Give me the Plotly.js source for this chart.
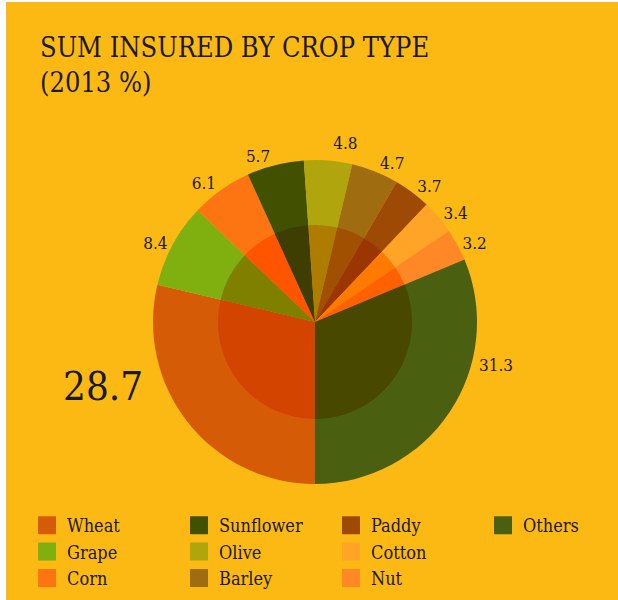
<!DOCTYPE html>
<html>
<head>
<meta charset="utf-8">
<script src="https://cdn.plot.ly/plotly-3.0.1.min.js"></script>
<style>
  html, body { margin: 0; padding: 0; background: #ffffff; }
  #chart { position: absolute; left: 6px; top: 2px; width: 612px; height: 598px; }
  #chart path.textline { display: none; }
</style>
</head>
<body>
<div id="chart"></div>
<script>
// slices, clockwise from 6 o'clock
const crops = ["Wheat", "Grape", "Corn", "Sunflower", "Olive", "Barley", "Paddy", "Cotton", "Nut", "Others"];
const shares = [28.7, 8.4, 6.1, 5.7, 4.8, 4.7, 3.7, 3.4, 3.2, 31.3];
const outerColors = ["#D55B06", "#80B010", "#FD7413", "#425002", "#B0A50D", "#A06C10", "#9E4A05", "#FFA426", "#FF8826", "#4A5F10"];
const innerColors = ["#D24400", "#7F7F00", "#FF5500", "#3E3D02", "#AE7D00", "#A05000", "#9B3600", "#FF7A00", "#FF6000", "#494800"];

// legend columns (read down each column)
const legendColumns = [
  ["Wheat", "Grape", "Corn"],
  ["Sunflower", "Olive", "Barley"],
  ["Paddy", "Cotton", "Nut"],
  ["Others"]
];

const font = "DejaVu Serif Condensed, DejaVu Serif, serif";
const W = 612, H = 598;
const cx = 309, cy = 320, rOuter = 162, rInner = 97;

function dom(r) {
  return {
    x: [(cx - r) / W, (cx + r) / W],
    y: [(H - cy - r) / H, (H - cy + r) / H]
  };
}

// the two big slices get their labels set off to the side
const bigOnes = ["Wheat", "Others"];
const sliceText = crops.map((c, i) => bigOnes.includes(c) ? "" : String(shares[i]));

const outer = {
  type: "pie",
  labels: crops,
  values: shares,
  text: sliceText,
  sort: false,
  direction: "clockwise",
  rotation: 180,
  domain: dom(rOuter),
  marker: { colors: outerColors, line: { width: 0 } },
  textinfo: "text",
  textposition: "outside",
  outsidetextfont: { family: font, size: 17, color: "#1a1a1a" },
  showlegend: false,
  hoverinfo: "skip"
};

const inner = {
  type: "pie",
  labels: crops,
  values: shares,
  sort: false,
  direction: "clockwise",
  rotation: 180,
  domain: dom(rInner),
  marker: { colors: innerColors, line: { width: 0 } },
  textinfo: "none",
  showlegend: false,
  hoverinfo: "skip"
};

const traces = [outer, inner];
const legendX = [21, 173, 325, 477];
const legends = {};

legendColumns.forEach((col, ci) => {
  const key = ci === 0 ? "legend" : "legend" + (ci + 1);
  legends[key] = {
    x: legendX[ci] / W,
    y: 1 - 505 / H,
    xanchor: "left",
    yanchor: "top",
    orientation: "v",
    bgcolor: "rgba(0,0,0,0)",
    font: { family: font, size: 18, color: "#1a1a1a" },
    tracegroupgap: 0
  };
  col.forEach(name => {
    const i = crops.indexOf(name);
    traces.push({
      type: "scatter",
      x: [null],
      y: [null],
      mode: "markers",
      name: name,
      legend: key,
      marker: { symbol: "square", size: 18, color: outerColors[i], line: { width: 2, color: outerColors[i] } },
      hoverinfo: "skip"
    });
  });
});

const annotations = [
  { x: 97 / W, y: 1 - 384 / H, text: String(shares[crops.indexOf("Wheat")]), size: 40 },
  { x: 490 / W, y: 1 - 363 / H, text: String(shares[crops.indexOf("Others")]), size: 17 }
].map(a => ({
  xref: "paper", yref: "paper", x: a.x, y: a.y,
  xanchor: "center", yanchor: "middle", showarrow: false,
  text: a.text, font: { family: font, size: a.size, color: "#1a1a1a" }
}));

const layout = Object.assign({
  width: W,
  height: H,
  paper_bgcolor: "#FDB913",
  plot_bgcolor: "rgba(0,0,0,0)",
  margin: { l: 0, r: 0, t: 0, b: 0 },
  title: {
    text: "SUM INSURED BY CROP TYPE<br>(2013 %)",
    x: 34 / W,
    xanchor: "left",
    y: 1 - 55 / H,
    yanchor: "top",
    font: { family: font, size: 27, color: "#1a1a1a" }
  },
  xaxis: { visible: false },
  yaxis: { visible: false },
  annotations: annotations,
  hovermode: false
}, legends);

Plotly.newPlot("chart", traces, layout, { displayModeBar: false, staticPlot: true });
</script>
</body>
</html>
